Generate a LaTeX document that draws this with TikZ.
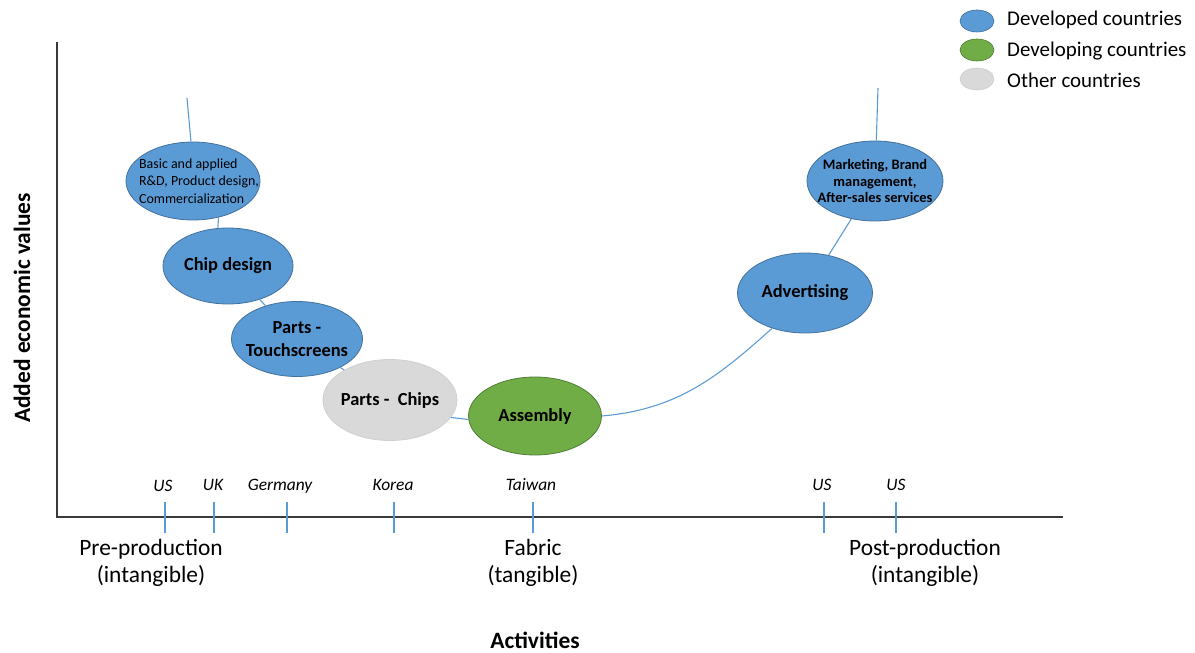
\documentclass[tikz,border=0pt]{standalone}
\usepackage{fontspec}
\setmainfont{Carlito}
\usetikzlibrary{shapes.geometric}
\definecolor{devblue}{HTML}{5B9BD5}
\definecolor{devedge}{HTML}{41719C}
\definecolor{devgreen}{HTML}{70AD47}
\definecolor{greenedge}{HTML}{507E32}
\definecolor{othergray}{HTML}{D9D9D9}
\definecolor{grayedge}{HTML}{CFCFCF}
\definecolor{axisgray}{HTML}{3A3A3A}
\newcommand{\fs}[1]{\fontsize{#1}{1.2\dimexpr#1pt\relax}\selectfont}
\begin{document}
\begin{tikzpicture}[x=1bp,y=-1bp,
  blob/.style={ellipse, draw, line width=0.8bp, inner sep=0pt},
  devd/.style={blob, fill=devblue, draw=devedge},
  devg/.style={blob, fill=devgreen, draw=greenedge},
  oth/.style={blob, fill=othergray, draw=grayedge},
  big/.style={minimum width=#1bp, minimum height=78bp},
  inner/.style={align=center, inner sep=0pt, font=\fs{18.5}\bfseries},
  small/.style={align=left, inner sep=0pt, font=\fontsize{14}{17.5}\selectfont},
  smallb/.style={align=center, inner sep=0pt, font=\fontsize{14.5}{16.8}\selectfont\bfseries},
  curve/.style={draw=devblue, line width=1.1bp},
  axisline/.style={draw=axisgray, line width=1.4bp},
  tickline/.style={draw=devblue, line width=1.4bp},
  ctry/.style={font=\fs{17.5}\itshape, inner sep=0pt, anchor=base},
  phase/.style={font=\fontsize{23.5}{27}\selectfont, align=center, inner sep=0pt},
  title/.style={font=\fs{23.5}\bfseries, inner sep=0pt},
  legdot/.style={ellipse, inner sep=0pt, minimum width=34bp, minimum height=22bp, line width=0.6bp},
  legtext/.style={font=\fs{21}, anchor=west, inner sep=0pt}
]
\useasboundingbox (0,0) rectangle (1195,653);

% axes
\draw[axisline] (57,42) |- (1063,517);

% value chain stages
\node[devd, big=134, label={[small, xshift=6bp]center:Basic and applied\\R\&D, Product design,\\Commercialization}] (rd) at (193,181) {};
\node[devd, big=130, minimum height=76bp, label={[inner]center:Chip design}] (chip) at (228,266) {};
\node[devd, big=131, minimum height=75bp, label={[inner, font=\fontsize{18.5}{23}\selectfont\bfseries]center:Parts -\\Touchscreens}] (touch) at (297,339) {};
\node[oth, big=134, minimum height=81bp, label={[inner]center:Parts -\ \ Chips}] (chips) at (390,400) {};
\node[devg, big=133, label={[inner]center:Assembly}] (asm) at (535,416) {};
\node[devd, big=135, minimum height=80bp, label={[inner]center:Advertising}] (adv) at (805,293) {};
\node[devd, big=136, minimum height=80bp, label={[smallb]center:Marketing, Brand\\management,\\After-sales services}] (mkt) at (875,181) {};

% smile curve through the stages
\coordinate (lefttop) at (187,98);
\coordinate (righttop) at (878,88);
\draw[curve] (lefttop) to[out=-85,in=95] (rd.93);
\draw[curve] (rd.-55) -- (chip.105);
\draw[curve] (chip) -- (touch);
\draw[curve] (touch) -- (chips);
\draw[curve] (chips.-16) -- (asm.183);
\draw[curve] (asm.east) to[out=5,in=-138] (adv.-133);
\draw[curve] (adv) -- (mkt);
\draw[curve] (mkt) -- (righttop);

% country ticks
\foreach \x in {165,214,287,394,533,824,896}
  \draw[tickline] (\x,502) -- (\x,533);
\node[ctry] (c1) at (163,491) {US};
\node[ctry] (c2) at (213,490) {UK};
\node[ctry] (c3) at (280,490) {Germany};
\node[ctry] (c4) at (393,490) {Korea};
\node[ctry] (c5) at (531,490) {Taiwan};
\node[ctry] (c6) at (822,490) {US};
\node[ctry] (c7) at (896,490) {US};

% phases
\node[phase] (pre) at (151,563) {Pre-production\\(intangible)};
\node[phase] (fab) at (533,563) {Fabric\\(tangible)};
\node[phase] (post) at (925,563) {Post-production\\(intangible)};

% axis titles
\node[title] (xt) at (535,640) {Activities};
\node[title, rotate=90] (yt) at (22,308) {Added economic values};

% legend
\node[legdot, fill=devblue, draw=devedge] (l1) at (977,21) {};
\node[legdot, fill=devgreen, draw=greenedge] (l2) at (977,50) {};
\node[legdot, fill=othergray, draw=grayedge] (l3) at (977,79) {};
\node[legtext] (t1) at (1007,20) {Developed countries};
\node[legtext] (t2) at (1007,51) {Developing countries};
\node[legtext] (t3) at (1007,80) {Other countries};
\end{tikzpicture}
\end{document}
